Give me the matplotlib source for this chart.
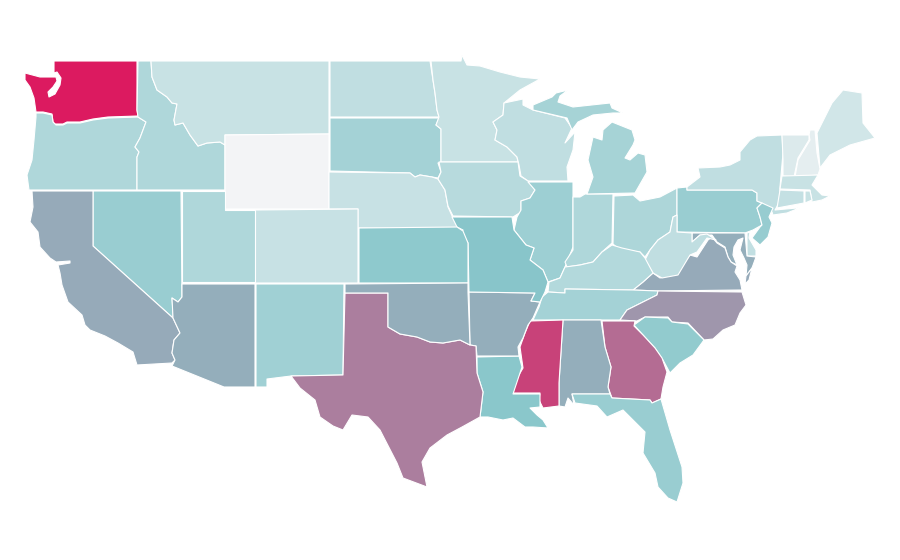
import matplotlib
matplotlib.use("Agg")
import matplotlib.pyplot as plt
from matplotlib.colors import LinearSegmentedColormap, Normalize
from matplotlib.patches import Polygon

# Estimated value of each state (scale 0-100, read from fill colours)
values = {
 "WA":100,"OR":32,"ID":32,"MT":20,"WY":0,"ND":24,"SD":37,"NE":21,"MN":20,"WI":24,"IA":28,
 "IL":40,"IN":32,"OH":33,"MI":36,"PA":42,"NY":24,"NJ":43,"DE":23,"MD":57,"VA":58,"WV":24,
 "KY":30,"TN":37,"NC":64,"SC":45,"GA":76,"AL":57,"MS":88,"LA":49,"AR":57,"MO":50,"KS":47,
 "CO":21,"UT":32,"NV":42,"CA":58,"AZ":57,"NM":39,"TX":71,"OK":57,"FL":42,"ME":16,"NH":7,
 "VT":11,"MA":20,"CT":22,"RI":20,
}
color_stops = ["#f3f4f6", "#88c6ca", "#dc1a60"]

outlines = {
 "WA":[[(54,61),(137,61),(137,110),(138,116),(108,117),(93,119),(80,122),(67,122),(63,124),(55,124),(53,122),(52,114),(43,112),(36,112),(35,105),(34,98),(30,87),(25,80),(25,73),(40,77),(48,77),(56,77),(57,81),(53,87),(48,92),(49,97),(55,94),(60,85),(61,78),(57,72),(54,73)]],
 "OR":[[(36,113),(43,113),(52,115),(53,122),(56,125),(63,125),(67,123),(80,123),(93,120),(108,118),(138,117),(146,122),(143,130),(140,138),(135,147),(139,152),(137,157),(137,190),(29,190),(27,175),(32,160),(34,140),(36,117)]],
 "ID":[[(138,61),(151,61),(152,77),(157,90),(167,97),(172,103),(177,104),(174,120),(175,125),(183,123),(190,135),(198,146),(207,143),(220,142),(225,145),(225,190),(137,190),(137,157),(139,152),(135,147),(140,138),(143,130),(146,122),(138,117),(137,110)]],
 "MT":[[(151,61),(329,61),(329,134),(225,135),(225,145),(220,142),(207,143),(198,146),(190,135),(183,123),(175,125),(174,120),(177,104),(172,103),(167,97),(157,90),(152,77)]],
 "WY":[[(225,135),(329,134),(329,209),(225,209)]],
 "ND":[[(330,61),(430,61),(433,80),(435,93),(437,110),(439,117),(330,117)]],
 "SD":[[(330,118),(439,118),(436,125),(441,129),(441,162),(438,163),(441,172),(438,178),(432,177),(420,175),(415,177),(410,173),(330,171)]],
 "NE":[[(329,172),(410,173),(415,177),(420,175),(432,177),(438,179),(445,190),(448,207),(453,218),(460,228),(358,228),(358,209),(329,209)]],
 "MN":[[(431,61),(461,61),(462,55),(467,65),(480,66),(500,72),(520,77),(540,79),(520,90),(504,103),(503,115),(493,122),(497,130),(495,140),(507,147),(517,157),(518,162),(441,162),(441,129),(436,125),(439,117),(437,110),(435,93),(433,80)]],
 "WI":[[(504,103),(523,99),(523,105),(533,110),(565,118),(572,128),(565,143),(575,132),(573,150),(567,167),(568,181),(528,181),(521,176),(519,165),(517,157),(507,147),(495,140),(497,130),(493,122),(503,115)]],
 "IA":[[(439,162),(518,162),(520,176),(528,181),(535,190),(530,198),(521,201),(521,212),(513,217),(453,216),(448,206),(445,190),(438,179),(441,172)]],
 "IL":[[(528,182),(573,182),(573,197),(573,247),(565,267),(560,278),(548,282),(543,270),(530,260),(534,248),(526,245),(514,230),(517,217),(521,210),(521,201),(530,198),(535,190)]],
 "IN":[[(573,197),(580,197),(585,194),(613,194),(612,243),(602,252),(593,262),(580,265),(567,267),(565,262),(573,250)]],
 "OH":[[(614,196),(633,195),(640,201),(660,197),(677,188),(677,215),(673,217),(670,232),(658,240),(650,250),(645,257),(640,252),(620,250),(613,244)]],
 "MI":[[(587,194),(593,177),(588,160),(593,137),(602,140),(603,130),(612,122),(632,130),(635,140),(633,145),(625,158),(630,160),(638,153),(645,155),(647,172),(635,193)],
       [(533,105),(552,97),(556,93),(568,90),(560,96),(558,102),(573,107),(610,103),(612,108),(623,113),(613,113),(593,115),(578,122),(572,130),(567,118),(533,110)]],
 "PA":[[(687,187),(687,190),(752,190),(757,193),(757,201),(762,203),(757,208),(760,217),(762,225),(753,230),(745,233),(677,232),(677,188)]],
 "NY":[[(687,187),(700,177),(698,168),(720,167),(730,165),(740,160),(740,152),(750,140),(757,136),(782,135),(783,153),(780,187),(779,203),(775,210),(797,208),(802,207),(787,213),(773,215),(772,212),(762,203),(757,201),(757,193),(752,190),(687,190)]],
 "NJ":[[(762,203),(773,208),(769,217),(772,223),(768,237),(760,245),(752,238),(760,227),(762,225),(760,217),(757,208)]],
 "DE":[[(747,233),(750,232),(749,238),(756,250),(756,256),(747,256)]],
 "MD":[[(692,233),(745,233),(747,256),(756,257),(752,268),(746,276),(747,265),(744,258),(740,250),(743,238),(738,240),(734,247),(733,255),(737,265),(731,262),(728,257),(725,247),(717,242),(712,235),(700,235),(692,242)]],
 "VA":[[(633,290),(643,282),(653,273),(660,278),(677,273),(690,255),(697,257),(708,240),(712,237),(717,243),(725,248),(728,257),(731,262),(737,266),(735,272),(740,280),(742,290),(658,291)],
       [(752,268),(749,280),(745,284),(746,276)]],
 "WV":[[(677,232),(692,233),(692,242),(700,235),(707,234),(716,240),(707,238),(697,252),(690,255),(678,275),(662,278),(653,273),(645,260),(650,250),(658,240),(670,232),(673,217),(677,215)]],
 "KY":[[(548,292),(549,282),(560,278),(565,267),(580,265),(593,262),(602,252),(612,245),(622,248),(640,252),(645,258),(653,273),(643,282),(633,290),(565,289),(565,293)]],
 "TN":[[(548,292),(565,293),(565,289),(633,290),(658,291),(657,295),(643,302),(627,310),(620,320),(533,320),(539,307),(542,297)]],
 "NC":[[(658,291),(742,292),(746,305),(740,313),(735,325),(723,330),(713,339),(704,340),(688,323),(672,322),(668,317),(645,317),(637,321),(620,320),(627,310),(643,302),(657,295)]],
 "SC":[[(634,325),(645,317),(668,318),(672,322),(688,324),(704,340),(693,355),(680,363),(670,373),(663,360),(655,348),(643,335)]],
 "GA":[[(602,321),(635,321),(634,326),(643,335),(655,348),(662,358),(667,372),(663,387),(661,399),(652,403),(650,400),(612,398),(608,387),(611,367),(605,347)]],
 "AL":[[(563,320),(601,320),(605,347),(611,367),(608,387),(610,394),(572,394),(574,405),(568,398),(565,407),(559,406),(559,383)]],
 "MS":[[(530,321),(563,320),(559,383),(559,406),(543,408),(539,400),(540,393),(513,393),(516,380),(523,368),(520,347),(525,333)]],
 "LA":[[(477,357),(519,356),(522,367),(513,394),(540,394),(540,407),(530,408),(537,415),(543,420),(548,428),(533,427),(525,427),(513,418),(503,420),(488,417),(480,417),(483,392),(477,373)]],
 "AR":[[(469,292),(535,293),(531,301),(540,302),(533,318),(528,325),(523,338),(518,347),(519,356),(477,356),(476,346),(470,345)]],
 "MO":[[(452,217),(512,217),(514,230),(526,245),(534,248),(530,260),(543,270),(548,282),(545,292),(540,302),(531,301),(535,293),(469,292),(468,243),(462,233),(463,230),(457,227)]],
 "KS":[[(359,228),(457,227),(463,231),(468,243),(468,283),(359,283)]],
 "CO":[[(255,210),(358,209),(358,283),(255,283)]],
 "UT":[[(182,191),(225,191),(225,210),(255,210),(255,282),(182,282)]],
 "NV":[[(93,191),(181,191),(182,297),(178,302),(172,298),(173,313),(173,318),(93,246)]],
 "CA":[[(32,191),(93,191),(93,246),(173,318),(180,333),(174,340),(172,353),(175,360),(172,363),(137,365),(133,352),(118,343),(105,336),(90,330),(85,325),(82,315),(68,302),(62,285),(60,273),(58,265),(70,263),(70,261),(56,262),(50,258),(40,247),(38,232),(30,222),(33,207)]],
 "AZ":[[(182,284),(255,284),(255,387),(224,387),(172,366),(175,360),(172,353),(174,340),(180,333),(173,318),(172,298),(178,302),(182,297)]],
 "NM":[[(256,284),(344,284),(343,375),(291,376),(267,379),(267,387),(256,387)]],
 "TX":[[(345,293),(388,293),(388,327),(400,334),(417,337),(430,342),(443,343),(460,340),(470,345),(476,346),(477,373),(483,392),(480,417),(462,427),(447,435),(430,448),(422,462),(427,487),(403,478),(397,463),(380,430),(368,417),(352,415),(343,430),(333,426),(320,417),(315,400),(300,388),(291,376),(343,375)]],
 "OK":[[(345,284),(468,283),(468,292),(470,345),(460,340),(443,343),(430,342),(417,337),(400,334),(388,327),(388,293),(345,293)]],
 "FL":[[(572,394),(610,394),(612,398),(650,400),(652,403),(661,399),(670,430),(682,467),(683,483),(677,502),(668,498),(658,487),(655,473),(643,453),(645,432),(623,410),(607,417),(597,406),(575,403)]],
 "ME":[[(817,133),(832,103),(843,90),(862,93),(863,123),(875,138),(850,145),(830,155),(820,168)]],
 "NH":[[(809,135),(810,130),(815,130),(817,153),(820,169),(818,175),(795,177),(798,160),(810,140)]],
 "VT":[[(782,135),(809,135),(809,140),(798,158),(794,177),(783,176),(783,160)]],
 "MA":[[(782,176),(818,175),(812,185),(822,195),(830,196),(822,200),(812,202),(810,190),(780,189)]],
 "CT":[[(780,190),(804,191),(804,203),(777,208)]],
 "RI":[[(805,191),(810,191),(812,200),(805,203)]],
}

cmap = LinearSegmentedColormap.from_list("map", color_stops)
norm = Normalize(vmin=0, vmax=100)

fig = plt.figure(figsize=(9, 5.6), dpi=100, facecolor="white")
ax = fig.add_axes([0, 0, 1, 1])
ax.set_xlim(0, 900)
ax.set_ylim(560, 0)
ax.axis("off")

for state, parts in outlines.items():
    for part in parts:
        ax.add_patch(Polygon(part, closed=True, facecolor=cmap(norm(values[state])),
                             edgecolor="white", linewidth=0.8, joinstyle="round"))

fig.savefig("out.png", dpi=100, facecolor="white")
